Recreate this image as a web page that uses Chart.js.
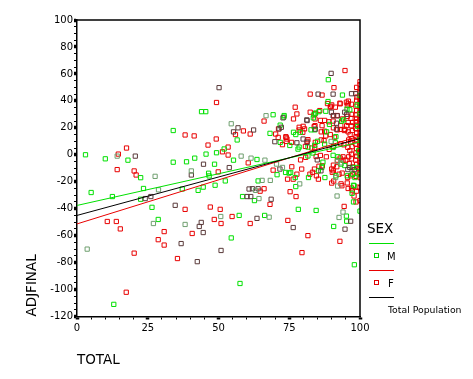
<!DOCTYPE html>
<html>
<head>
<meta charset="utf-8">
<script src="https://cdn.jsdelivr.net/npm/chart.js@4.4.1/dist/chart.umd.min.js"></script>
<style>
  html,body{margin:0;padding:0;background:#fff;}
  #wrap{position:relative;width:473px;height:379px;overflow:hidden;}
  canvas{position:absolute;left:0;top:0;}
  .lg{position:absolute;font-family:"DejaVu Sans",sans-serif;color:#000;white-space:nowrap;line-height:1;}
  .ln{position:absolute;height:1px;}
  .mk{position:absolute;width:3px;height:3px;border:1px solid;}
</style>
</head>
<body>
<div id="wrap">
<canvas id="c" width="473" height="379"></canvas>
<div class="lg" style="left:367px;top:222px;font-size:13.5px;">SEX</div>
<div class="ln" style="left:369px;top:243px;width:25px;background:#00e000;"></div>
<div class="mk" style="left:374px;top:253px;border-color:#00d000;"></div>
<div class="lg" style="left:387px;top:252px;font-size:10px;">M</div>
<div class="ln" style="left:369px;top:270px;width:25px;background:#e80000;"></div>
<div class="mk" style="left:374px;top:280px;border-color:#e00000;"></div>
<div class="lg" style="left:388px;top:279px;font-size:10px;">F</div>
<div class="ln" style="left:369px;top:297px;width:25px;background:#000;"></div>
<div class="lg" style="left:388px;top:305px;font-size:9.3px;">Total Population</div>
</div>
<script>
// ---- data (TOTAL, ADJFINAL) ----
const xTickLabels = [0, 25, 50, 75, 100];
const yTickLabels = [-120, -100, -80, -60, -40, -20, 0, 20, 40, 60, 80, 100];

const malePoints = [
 [3,0],[10,-3],[18,-4],[22.5,-17],[23.5,-25],[34,18],[34,-5.5],[5,-28],[12.5,-31],[22.5,-33],[26.5,-39],[28.7,-48],[13,-111],
 [44,32],[45.5,32],[56.6,11],[52,4.3],[49.3,1.5],[45.6,0.5],[41.6,-2.5],[55.3,-4],[38.7,-5.2],[63.6,-3.5],[48.6,-7],[46.5,-13.7],
 [46.7,-15.7],[52.4,-19.4],[48.8,-22.6],[44.6,-24],[42.8,-26.4],[37.2,-25.4],[64,-19.4],[58.5,-31],[62.7,-34],[57.3,-45],[66.3,-45],
 [54.5,-61.7],[57.6,-95.5],
 [69.3,29.7],[71.8,22],[73.2,29.1],[68.2,15.9],[71.8,9.2],[75.2,6.9],[78.1,4.2],[83.7,29.6],[88.8,55.7],[93.8,44.3],[88.7,39.5],
 [99,37],[95.4,33.8],[87.9,32.3],[93.5,25],[88.2,17],[82.7,18.5],[84,18.5],[89.2,22.5],[91.5,13.4],[87.5,7.9],[83.4,1.3],[81.6,-0.9],
 [86.9,-5.5],[90.5,-0.4],[93.3,-6.9],[99,-9.4],[95.5,-15.6],[98.2,-16.9],[97.7,-22.6],[91.5,-15.6],[86.5,-9.4],[85.3,-11.9],[87.6,-16.9],
 [81.8,-16.9],[77.1,-16.9],[74.9,-13.6],[73.7,-13.1],[75.5,-13.1],[70.7,-14.8],[77.3,-23.6],
 [83.5,27.4],[73.1,28],[76.5,16.7],[77.3,15],[78.9,16.7],[78.5,5.7],[81.6,5.7],[84,7],[85,10],
 [78.2,-40.5],[84.5,-41.3],[97.9,-23],[97.2,-28.6],[97.7,-35],[95.2,-45.5],[95.3,-49.3],[100,-41.8],[90.7,-53.2],[98,-81.6],
 [96.4,33.4],[94.2,25.9],[91.3,8.9],[90.5,5.4],[92.2,-1.5],[94.6,-8],[97.3,-9.4],[97.3,-14.4],[85.5,32],[84.3,31],
 [100,44],[100,36.6],[100,30.4],[100,11.7],[100,-0.7],[100,-14.4],[99.2,21],[99.5,3]
];

const femalePoints = [
 [17.5,5],[14.6,0.5],[14.2,-11],[20.2,-12],[20.9,-15],[10.7,-49.5],[13.9,-49.5],[15.3,-55],[30.8,-57],[28.7,-63],[30.8,-67],[35.5,-77],
 [20.2,-73],[17.4,-102],
 [49.3,38.8],[56,15],[58.8,17.7],[61.2,15.4],[66.1,25],[38.2,14.7],[41.4,14],[49.2,11.7],[46.3,7.2],[53.4,5.7],[51.4,2.2],[53.4,-0.2],
 [60.5,-6],[49.9,-12.7],[64.7,-27],[47.1,-38.8],[38.2,-40.5],[50.6,-40.5],[48.5,-48],[54.8,-45.8],[50.9,-51],[61.2,-51],[40.7,-58.4],
 [68.2,-36.8],[77.4,-31],[75.3,-27.4],[74.5,-48.7],[81.6,-60],[79.5,-72.6],[66.1,-25.2],[74.4,-18.1],[76.4,-18.1],[69.3,-11.4],
 [75.9,-8.9],[79.4,-10.6],[77.7,-14.4],
 [94.7,62.5],[100,54.2],[90.8,49.8],[82.4,45],[86.6,44.3],[98.9,42.8],[95.9,39.8],[100,40],[92.9,38.3],[91.3,35.3],[89.5,35.3],
 [77.1,35.3],[95.5,36.5],[97,37.5],[85.8,32.8],[82.4,31.6],[84.1,30.4],[77.7,30.3],[76.5,26.6],[84.1,26.6],[86,25.5],[87.5,25.5],
 [93.8,26.6],[78.5,20.4],[79.9,21.1],[71.2,19.2],[70.2,15.4],[71.1,12.9],[73.8,13.4],[74.2,11.7],[72.6,7.5],[75.8,9.2],[80.7,6.2],
 [83,5],[84,5],[84.2,9.2],[86.3,11],[87.3,10.5],[87.9,14],[89.5,15],[91,13],[86.3,17],[87.5,17.5],[83.8,20.9],[86.6,21.6],[90.6,20],
 [92,18.5],[93,18.8],[94.5,18],[95.8,17],[90.7,6.2],[89.1,4],[86,-0.5],[84.5,-1.3],[80.8,-1.9],[79,-3.8],[88.1,-1.5],[93,-2.4],
 [92,-4],[94,-4],[97.5,-14.4],[100,-13],[97,-24.6],[95.5,-20.9],[93.3,-21.6],[90.7,-19.5],[90,-21],[92.6,-14.4],[90,-10.6],
 [85.5,-8.5],[86.7,-8.2],[83.9,-10.6],[83.2,-13],[82.3,-14.4],[84.6,-15.6],[85.3,-18.1],[84.1,21.6],[73.9,12.9],[73.9,9.9],
 [78.5,18.4],[79.8,16.7],[80.4,19.2],[81.3,10],[81.6,11.2],
 [93.6,-23],[95.8,-25],[97.3,-26.6],[98.8,-27],[99.2,-24],[100,-24.5],[97.9,-30.6],[98.6,-35],[94.4,-38.3],[92.9,-64.2],[100,-34],
 [93,37.8],[95.2,39],[95.8,37.8],[90.7,29.1],[91.9,29.1],[90.5,25],[89,24.5],[93.2,21.6],[95.3,21.6],[94.7,18.9],[93.2,8.2],
 [94.3,7.4],[94,-1.5],[96,-1.5],[97,-3],[95,-4],[90.6,-7.7],[91.8,-8.9],[90.6,-11.9],[90.2,-13],[93.7,-13.6],[95.6,-16.9],
 [96.7,-15.6],[98.6,-16],[88.5,38],[90,37],[89.6,36],
 [100,52],[100,49],[100,46.5],[100,42],[100,38],[100,35.5],[100,33],[100,31],[100,28],[100,26],[100,23.5],[100,21],[100,19],
 [100,16.5],[100,14],[100,12.5],[100,9],[100,7],[100,5],[100,2.5],[100,1],[100,-3],[100,-5.5],[100,-8],[100,-10.5],[100,-17],
 [98.8,50],[98.5,45.5],[98.8,40.5],[98.6,36],[98.8,33],[98.5,29.5],[98.8,27],[98.6,24.5],[98.8,22],[98.5,19.5],[98.8,16],
 [98.6,13.5],[98.8,10.5],[98.5,8],[98.8,4.5],[98.6,1.5],[98.8,-1],[98.5,-4],[98.8,-7],[98.6,-12],
 [97.2,30],[96.8,27],[97.4,24],[96.9,21.5],[97.3,18],[96.5,15],[97.1,12],[96.7,9.5],[97.2,6],[96.4,3],[97,0.5],[96.2,-6.5],
 [97.5,-9],[95.8,24],[95.5,28.5],[96,11],[95.7,5.5]
];

const maleOverlapPoints = [
 [14.2,-1],[27.6,-16],[28.8,-26],[27,-51],[3.6,-70],[54.5,23],[58,-1],[61.5,-2.5],[66.4,-4],[40.4,-12],[63.1,-26.4],[64.3,-32.5],
 [50.8,-45.8],[38.2,-51.7],[66.8,29],[89.8,9.9],[91.4,-16.9],[70.5,-6.9],[72.6,-9.4],[78.7,-21.6],[65.4,-19],[68.3,-19],[67.9,-46.3],
 [94,-42.5],[92.6,-46.5],[91.9,-30.6],[92,-5],[93.2,-6],[92.1,-23.2]
];

const femaleOverlapPoints = [
 [20.6,-1],[24.1,-32.5],[26.1,-31],[34.7,-37.5],[50.2,49.8],[56.9,20],[55.3,17],[62.4,18.4],[44.7,-7],[53.8,-9.5],[40.4,-15],
 [60.8,-25.4],[60.1,-31],[61.4,-31],[63.6,-47.2],[43.9,-50.2],[43.2,-53.2],[44.6,-57.7],[36.8,-65.9],[50.9,-71],[42.5,-79.3],
 [90.5,45],[97,45.3],[98.5,45.3],[90.5,28.9],[92,28.9],[81.2,25.9],[72.8,27.4],[69.9,9.7],[79.9,11.7],[81.3,9.2],[84.2,19],
 [81.3,25.4],[91.7,23.4],[84.9,-3.8],[96.4,-9.4],[86.2,-11.9],[71.7,-10.6],[62,-25.2],[64,-25.2],[68.6,-33],[76.4,-54],[96.7,-49.3],
 [94.7,-55.2],[72.2,20.4],[71.4,19.2],[77.7,8.9],[94.6,31.6],[91.7,19],[95.7,-11],[98,-11],[89.9,31.6],[95.3,30],[85.2,45],[89.8,60.4]
];

// fit lines: [TOTAL, ADJFINAL] at both ends
const maleFit = [[0,-37.6],[100,9.4]];
const femaleFit = [[0,-51.3],[100,14]];
const totalFit = [[0,-45],[100,12]];

// ---- chart ----
const GREEN = '#00e000', RED = '#e80000';
const toXY = a => a.map(p => ({x:p[0], y:p[1]}));
const pts = (data, color) => ({
  type:'scatter', data:toXY(data), pointStyle:'rect', pointRadius:3, pointHoverRadius:3,
  borderColor:color, backgroundColor:'rgba(0,0,0,0)', pointBorderWidth:1, order:2
});
const fit = (data, color) => ({
  type:'line', data:toXY(data), borderColor:color, borderWidth:1, pointRadius:0, fill:false, order:0
});

const framePlugin = {
  id:'frame',
  afterDatasetsDraw(chart){
    const {ctx, chartArea:a} = chart;
    ctx.save(); ctx.strokeStyle='#000'; ctx.lineWidth=1.5;
    ctx.beginPath(); ctx.moveTo(a.left, a.top); ctx.lineTo(a.right, a.top); ctx.lineTo(a.right, a.bottom); ctx.stroke();
    ctx.restore();
  }
};

const tickFont = {family:'"DejaVu Sans", sans-serif', size:10};
const titleFont = {family:'"DejaVu Sans", sans-serif', size:13.5};

new Chart(document.getElementById('c'), {
  data:{ datasets:[
    fit(totalFit,'#000'), fit(maleFit,GREEN), fit(femaleFit,RED),
    pts(maleOverlapPoints,'#6f9f6f'), pts(femaleOverlapPoints,'#5a3a3a'),
    pts(malePoints,GREEN), pts(femalePoints,RED)
  ]},
  options:{
    responsive:false, animation:false, events:[],
    layout:{padding:{left:24, top:20, right:113, bottom:10}},
    plugins:{legend:{display:false}, tooltip:{enabled:false}},
    scales:{
      x:{
        type:'linear', min:0, max:100,
        afterFit(s){ s.height = 52.5; },
        ticks:{stepSize:5, autoSkip:false, maxRotation:0, color:'#000', font:tickFont, padding:3,
          callback:v => xTickLabels.includes(v) ? String(v) : ''},
        grid:{drawOnChartArea:false, drawTicks:true, tickLength:3, tickColor:'#000',
          tickWidth:c => (c.tick && xTickLabels.includes(c.tick.value)) ? 3.5 : 1},
        border:{color:'#000', width:1.5},
        title:{display:true, text:'TOTAL', align:'start', color:'#000', font:titleFont, padding:0}
      },
      y:{
        type:'linear', min:-120, max:100,
        afterFit(s){ s.width = 53; },
        ticks:{stepSize:5, autoSkip:false, color:'#000', font:tickFont, padding:1,
          callback:v => yTickLabels.includes(v) ? String(v) : ''},
        grid:{drawOnChartArea:false, drawTicks:true, tickLength:3, tickColor:'#000',
          tickWidth:c => (c.tick && yTickLabels.includes(c.tick.value)) ? 3.5 : 1},
        border:{color:'#000', width:1.5},
        title:{display:true, text:'ADJFINAL', align:'start', color:'#000', font:titleFont, padding:0}
      }
    }
  },
  plugins:[framePlugin]
});
</script>
</body>
</html>
